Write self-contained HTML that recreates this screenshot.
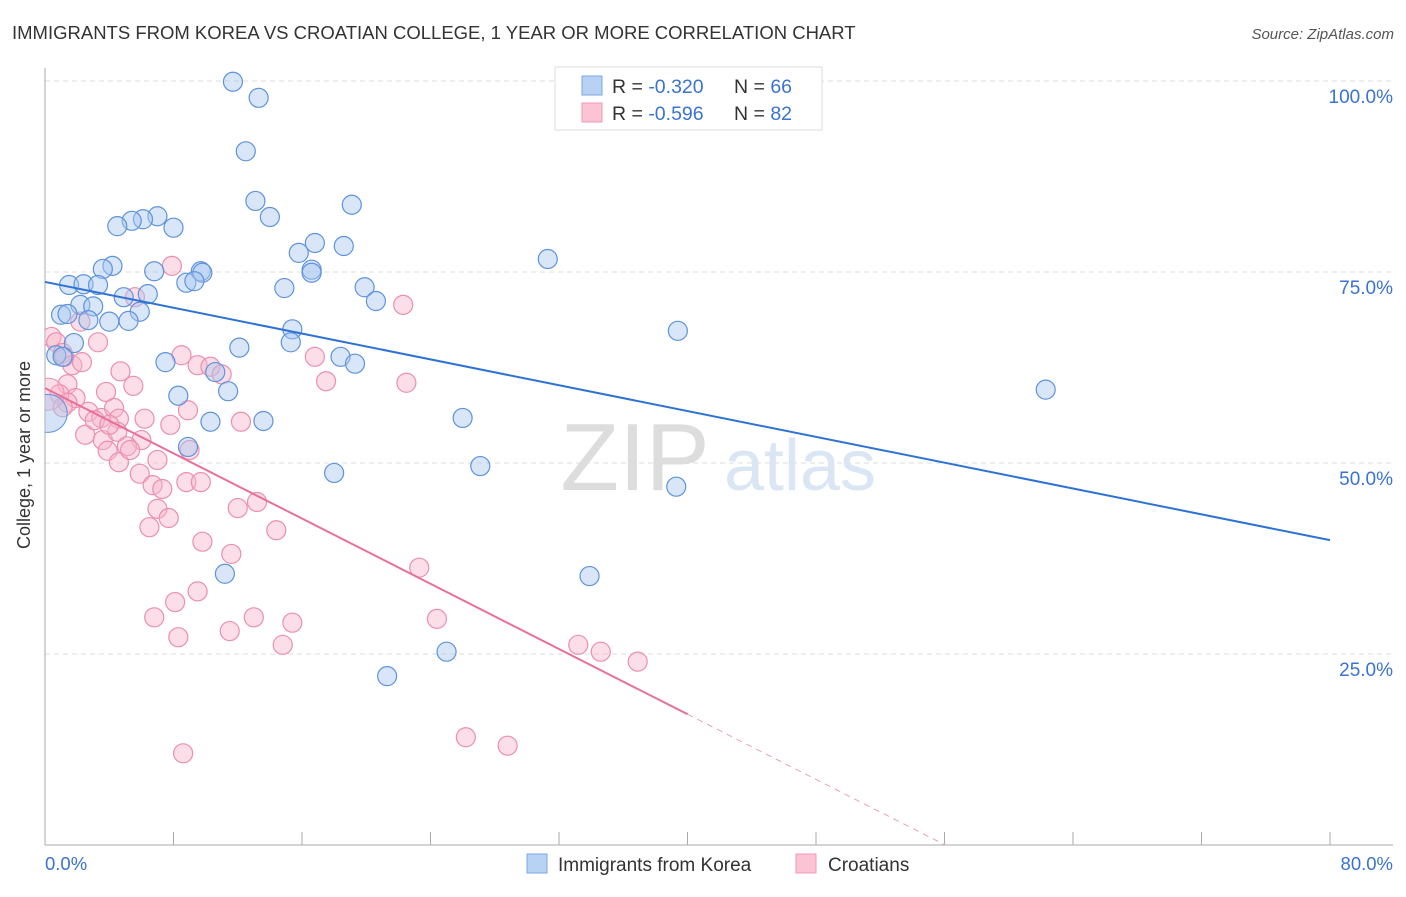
<!DOCTYPE html>
<html><head><meta charset="utf-8"><style>
body{margin:0;background:#fff;font-family:"Liberation Sans",sans-serif}
svg text{font-family:"Liberation Sans",sans-serif}
</style></head><body>
<svg width="1406" height="892" xmlns="http://www.w3.org/2000/svg">
<text x="12" y="39" font-size="18.5" fill="#333">IMMIGRANTS FROM KOREA VS CROATIAN COLLEGE, 1 YEAR OR MORE CORRELATION CHART</text>
<text x="1394" y="39" font-size="15" fill="#555" font-style="italic" text-anchor="end">Source: ZipAtlas.com</text>
<g id="grid"></g>
<g><text x="635" y="490" font-size="96" fill="#ddd" font-family="Liberation Serif" text-anchor="middle">ZIP</text><text x="800" y="490" font-size="72" fill="#dbe6f4" text-anchor="middle">atlas</text></g>
<g id="axes"></g>
<defs><clipPath id="pc"><rect x="45" y="60" width="1360" height="785"/></clipPath></defs>
<g id="pts" clip-path="url(#pc)"></g>
<g id="lines"></g>
<text x="30" y="455" font-size="18" fill="#333" text-anchor="middle" transform="rotate(-90 30 455)">College, 1 year or more</text>
<g>
<rect x="555" y="67" width="267" height="63" fill="#fff" stroke="#ddd"/>
<rect x="582" y="76" width="20" height="19" fill="#b8d2f4" stroke="#7aa7e6"/>
<rect x="582" y="103" width="20" height="19" fill="#fac4d4" stroke="#f09ab5"/>
<text x="612" y="93" font-size="19.5" fill="#333">R = <tspan fill="#3a73d0">-0.320</tspan></text>
<text x="734" y="93" font-size="19.5" fill="#333">N = <tspan fill="#3a73d0">66</tspan></text>
<text x="612" y="120" font-size="19.5" fill="#333">R = <tspan fill="#3a73d0">-0.596</tspan></text>
<text x="734" y="120" font-size="19.5" fill="#333">N = <tspan fill="#3a73d0">82</tspan></text>
</g>
<g>
<rect x="527" y="854" width="20" height="19" fill="#b8d2f4" stroke="#7aa7e6"/>
<text x="558" y="871" font-size="19" fill="#333">Immigrants from Korea</text>
<rect x="796" y="854" width="20" height="19" fill="#fac4d4" stroke="#f09ab5"/>
<text x="828" y="871" font-size="19" fill="#333">Croatians</text>
</g>
</svg>
<script>
const yTicks=[25,50,75,100];
const yTickLabels=["25.0%","50.0%","75.0%","100.0%"];
const xTickCount=10;
const koreaX=[11.7,13.3,12.5,13.1,14.0,19.1,7.0,6.1,5.4,4.5,8.0,16.8,18.6,15.8,31.3,4.2,3.6,6.8,9.7,9.8,16.6,16.6,1.5,2.4,3.3,8.8,9.3,19.9,14.9,4.9,6.4,20.6,2.2,3.0,5.9,1.0,1.4,2.7,4.0,5.2,15.4,39.4,15.3,1.8,12.1,0.7,1.1,18.4,19.3,7.5,10.6,11.4,62.3,8.3,26.0,10.3,13.6,8.9,27.1,18.0,39.3,11.2,33.9,25.0,21.3];
const koreaY=[99.9,97.8,90.8,84.3,82.2,83.8,82.3,81.9,81.7,81.0,80.8,78.8,78.4,77.5,76.7,75.8,75.4,75.1,75.1,74.9,75.3,74.9,73.3,73.4,73.3,73.6,73.8,73.0,72.9,71.7,72.1,71.2,70.7,70.5,69.8,69.4,69.5,68.7,68.5,68.6,67.5,67.3,65.8,65.7,65.1,64.1,63.9,63.9,63.0,63.2,61.9,59.4,59.6,58.8,55.9,55.4,55.5,52.1,49.6,48.7,46.9,35.5,35.2,25.3,22.1];
const croatX=[7.9,22.3,5.6,0.4,0.7,2.2,3.3,1.1,1.2,1.7,2.3,8.5,9.5,10.3,11.0,16.8,4.7,1.4,5.5,17.5,22.5,3.8,1.9,0.9,2.7,3.5,4.3,4.6,8.9,6.2,7.8,12.2,2.5,3.6,4.5,6.0,5.1,3.9,9.0,7.0,4.6,5.9,6.7,8.8,9.7,7.3,13.2,12.0,7.0,7.7,6.5,14.4,9.8,11.6,23.3,9.5,8.1,6.8,13.0,11.5,15.4,8.3,24.4,14.8,33.2,34.6,36.9,26.2,28.8,8.6,1.4,3.1,1.1,5.3,4.0];
const croatY=[75.8,70.7,71.7,66.5,65.8,68.5,65.8,64.4,63.9,62.8,63.2,64.1,62.8,62.6,61.6,63.9,62.0,60.3,60.1,60.7,60.5,59.3,58.5,59.0,56.7,55.9,57.2,55.8,56.9,55.8,55.0,55.4,53.7,53.0,54.1,53.0,52.2,51.6,51.7,50.4,50.1,48.6,47.1,47.5,47.5,46.6,44.9,44.1,44.0,42.8,41.6,41.2,39.7,38.1,36.3,33.2,31.8,29.8,29.8,28.0,29.1,27.2,29.6,26.2,26.2,25.3,24.0,14.1,13.0,12.0,57.9,55.6,57.3,51.7,55.0];
const bigX=[0.2,0.2];
const bigY=[56.5,59.0];
const koreaTrend=[73.7,-0.4225];
const croatTrend=[59.8,-1.067];
const NS="http://www.w3.org/2000/svg";
const X=v=>45+v*16.0625, Y=v=>845-v*7.64;
function mk(t,a,p){const e=document.createElementNS(NS,t);for(const k in a)e.setAttribute(k,a[k]);p.appendChild(e);return e;}
const grid=document.getElementById('grid'),axes=document.getElementById('axes'),pts=document.getElementById('pts'),lines=document.getElementById('lines');
yTicks.forEach((t,i)=>{
 const l=mk('line',{x1:45,x2:1393,y1:Y(t),y2:Y(t),stroke:'#ddd','stroke-dasharray':'5,4'},grid);
 
 
 const tx=mk('text',{x:1393,y:Y(t)+22,'font-size':19,fill:'#3a73d0','text-anchor':'end'},axes);
 tx.textContent=yTickLabels[i];
 
 
});
mk('line',{x1:45,x2:45,y1:68,y2:845,stroke:'#aaa'},axes);
mk('line',{x1:45,x2:1393,y1:845,y2:845,stroke:'#aaa'},axes);
for(let i=0;i<=xTickCount;i++){const t=mk('line',{x1:X(i*8),x2:X(i*8),y1:832,y2:845,stroke:'#aaa'},axes);
 
 }
let t0=mk('text',{x:45,y:870,'font-size':18.5,fill:'#3a73d0'},axes);t0.textContent='0.0%';
let t1=mk('text',{x:1393,y:870,'font-size':18.5,fill:'#3a73d0','text-anchor':'end'},axes);t1.textContent='80.0%';
function dots(xs,ys,fill,st,r,name){xs.forEach((x,i)=>{const c=mk('circle',{cx:X(x),cy:Y(ys[i]),r:r,fill:fill,'fill-opacity':0.45,stroke:st,'stroke-width':1.2},pts);
 
 });}
dots(croatX,croatY,'#f7b6ca','#ec8fae',9.5,'croatian-point');
dots(koreaX,koreaY,'#a9c8f0','#5e93dd',9.5,'korea-point');
const bc=mk('circle',{cx:X(bigX[1]),cy:Y(bigY[1]),r:16,fill:'#f7b6ca','fill-opacity':0.45,stroke:'#ec8fae'},pts);


const bb=mk('circle',{cx:X(bigX[0]),cy:Y(bigY[0]),r:19,fill:'#a9c8f0','fill-opacity':0.5,stroke:'#5e93dd'},pts);


const kl=mk('line',{x1:X(0),y1:Y(koreaTrend[0]),x2:X(80),y2:Y(koreaTrend[0]+koreaTrend[1]*80),stroke:'#2e72d6','stroke-width':2},lines);


const cl=mk('line',{x1:X(0),y1:Y(croatTrend[0]),x2:X(40),y2:Y(croatTrend[0]+croatTrend[1]*40),stroke:'#e8709a','stroke-width':2},lines);


const xe=-croatTrend[0]/croatTrend[1];
const cd=mk('line',{x1:X(40),y1:Y(croatTrend[0]+croatTrend[1]*40),x2:X(xe),y2:Y(0),stroke:'#e8a0b8','stroke-width':1,'stroke-dasharray':'6,5'},lines);


</script>
</body></html>
